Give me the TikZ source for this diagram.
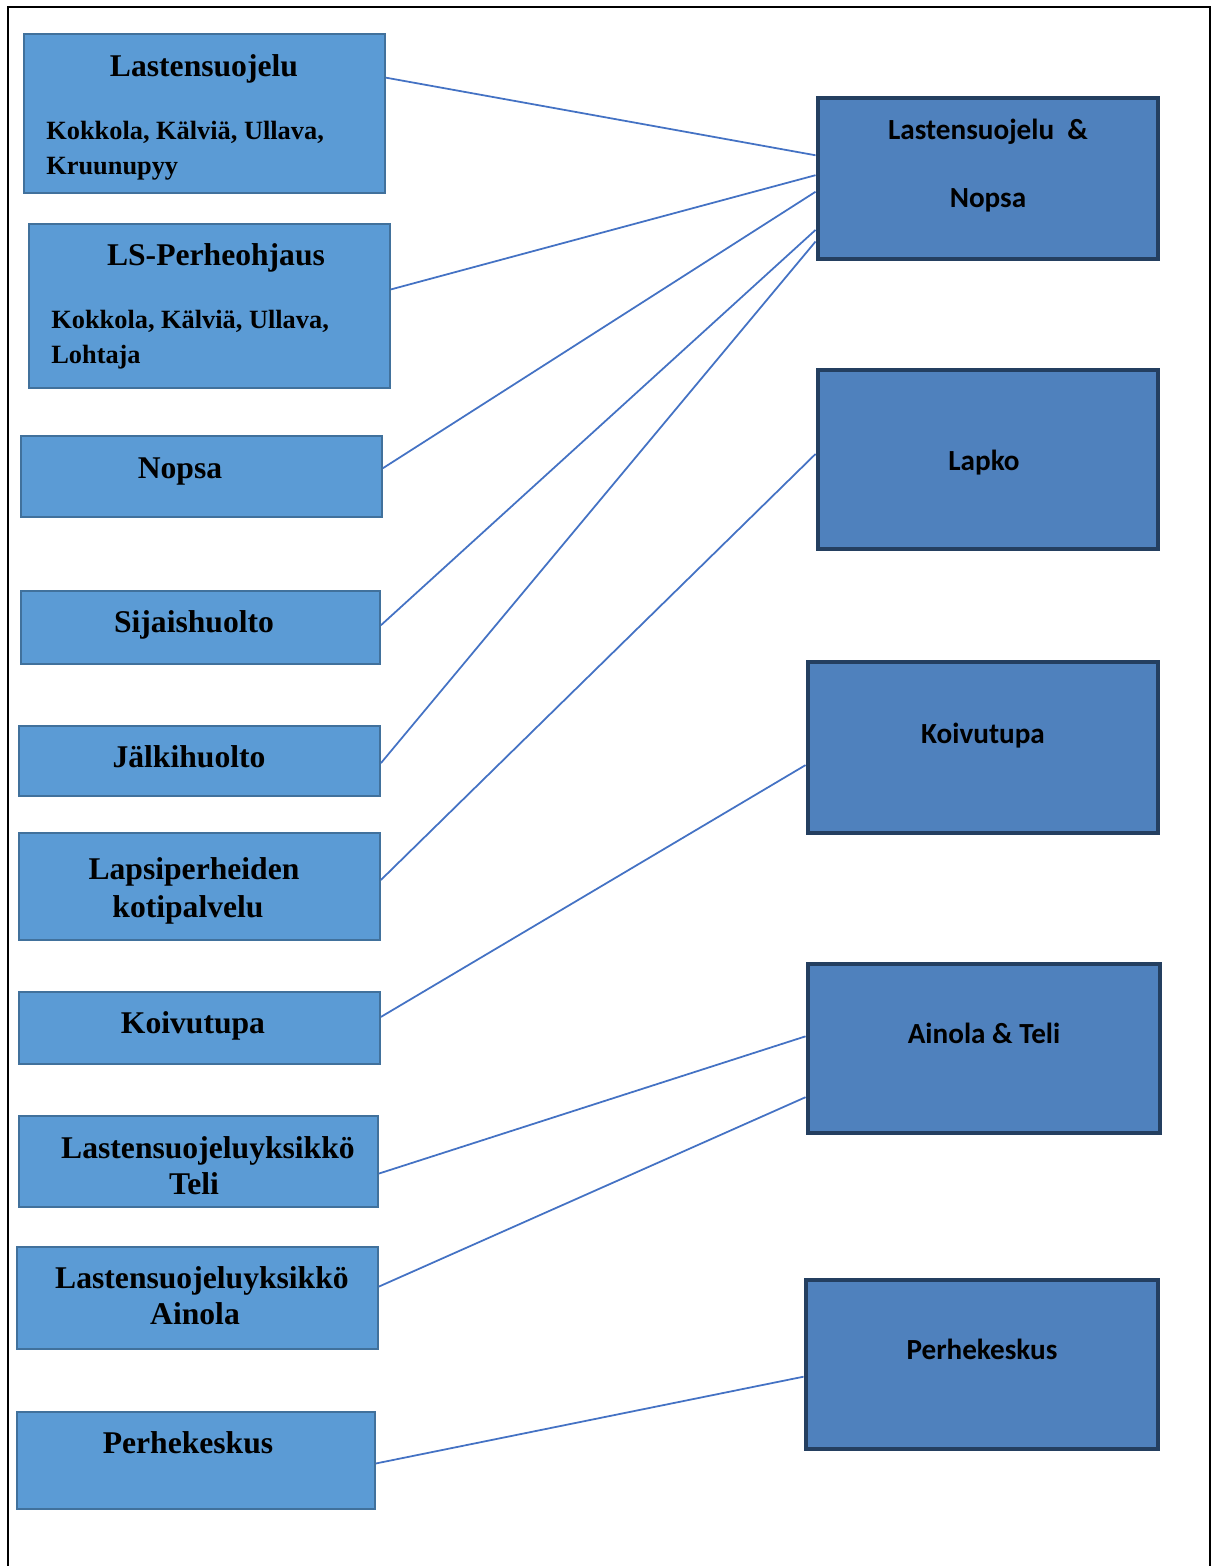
\documentclass[tikz,border=0pt]{standalone}
\usepackage{fontspec}
\setmainfont{Liberation Serif}
\newfontfamily\calib{Carlito}
\usetikzlibrary{fit,calc}
\definecolor{lfill}{HTML}{5B9BD5}
\definecolor{ldraw}{HTML}{41719C}
\definecolor{rfill}{HTML}{4F81BD}
\definecolor{rdraw}{HTML}{243F60}
\definecolor{conn}{HTML}{4472C4}
\begin{document}
\begin{tikzpicture}[x=0.02cm,y=-0.02cm,
 lbox/.style={draw=ldraw,fill=lfill,line width=1pt,inner sep=0pt,rectangle},
 rbox/.style={draw=rdraw,fill=rfill,line width=2.8pt,inner sep=0pt,rectangle},
 ltitle/.style={anchor=base,font=\fontsize{18}{21}\selectfont\bfseries,inner sep=0pt},
 lsub/.style={anchor=base west,font=\fontsize{15}{19}\selectfont\bfseries,inner sep=0pt},
 rtext/.style={anchor=base,font=\calib\fontsize{16.6}{19}\selectfont\bfseries,inner sep=0pt},
 link/.style={draw=conn,line width=1pt}]
\useasboundingbox[fill=white] (0,0) rectangle (1216,1566);
\draw[line width=1.5pt] (8,1566) -- (8,7) -- (1210,7) -- (1210,1566);

% left boxes
\node[lbox, fit={(24,34) (385,193)}] (l1) {};
\node[ltitle] (l1t) at (204,76) {Lastensuojelu};
\node[lsub] (l1a) at (46,139) {Kokkola, Kälviä, Ullava,};
\node[lsub] (l1b) at (46,174) {Kruunupyy};

\node[lbox, fit={(29,224) (390,388)}] (l2) {};
\node[ltitle] (l2t) at (216,265) {LS-Perheohjaus};
\node[lsub] (l2a) at (51,328) {Kokkola, Kälviä, Ullava,};
\node[lsub] (l2b) at (51,363) {Lohtaja};

\node[lbox, fit={(21,436) (382,517)}] (l3) {};
\node[ltitle] (l3t) at (180,478) {Nopsa};

\node[lbox, fit={(21,591) (380,664)}] (l4) {};
\node[ltitle] (l4t) at (194,632) {Sijaishuolto};

\node[lbox, fit={(19,726) (380,796)}] (l5) {};
\node[ltitle] (l5t) at (189,767) {Jälkihuolto};

\node[lbox, fit={(19,833) (380,940)}] (l6) {};
\node[ltitle] (l6t) at (194,879) {Lapsiperheiden};
\node[ltitle] (l6u) at (188,917) {kotipalvelu};

\node[lbox, fit={(19,992) (380,1064)}] (l7) {};
\node[ltitle] (l7t) at (193,1033) {Koivutupa};

\node[lbox, fit={(19,1116) (378,1207)}] (l8) {};
\node[ltitle] (l8t) at (208,1158) {Lastensuojeluyksikkö};
\node[ltitle] (l8u) at (194,1194) {Teli};

\node[lbox, fit={(17,1247) (378,1349)}] (l9) {};
\node[ltitle] (l9t) at (202,1288) {Lastensuojeluyksikkö};
\node[ltitle] (l9u) at (195,1324) {Ainola};

\node[lbox, fit={(17,1412) (375,1509)}] (l10) {};
\node[ltitle] (l10t) at (188,1453) {Perhekeskus};

% right boxes
\node[rbox, fit={(818,98) (1158,259)}] (rA) {};
\node[rtext] (rAt) at (988,139) {Lastensuojelu\ \ \&};
\node[rtext] (rAu) at (988,207) {Nopsa};

\node[rbox, fit={(818,370) (1158,549)}] (rB) {};
\node[rtext] (rBt) at (984,470) {Lapko};

\node[rbox, fit={(808,662) (1158,833)}] (rC) {};
\node[rtext] (rCt) at (983,743) {Koivutupa};

\node[rbox, fit={(808,964) (1160,1133)}] (rD) {};
\node[rtext] (rDt) at (984,1043) {Ainola \& Teli};

\node[rbox, fit={(806,1280) (1158,1449)}] (rE) {};
\node[rtext] (rEt) at (982,1359) {Perhekeskus};

% connectors
\draw[link] ($(l1.north east)!0.277!(l1.south east)$) -- ($(rA.north west)!0.36!(rA.south west)$);
\draw[link] ($(l2.north east)!0.40!(l2.south east)$) -- ($(rA.north west)!0.48!(rA.south west)$);
\draw[link] ($(l3.north east)!0.40!(l3.south east)$) -- ($(rA.north west)!0.58!(rA.south west)$);
\draw[link] ($(l4.north east)!0.47!(l4.south east)$) -- ($(rA.north west)!0.81!(rA.south west)$);
\draw[link] ($(l5.north east)!0.53!(l5.south east)$) -- ($(rA.north west)!0.88!(rA.south west)$);
\draw[link] ($(l6.north east)!0.44!(l6.south east)$) -- ($(rB.north west)!0.47!(rB.south west)$);
\draw[link] ($(l7.north east)!0.35!(l7.south east)$) -- ($(rC.north west)!0.60!(rC.south west)$);
\draw[link] ($(l8.north east)!0.63!(l8.south east)$) -- ($(rD.north west)!0.43!(rD.south west)$);
\draw[link] ($(l9.north east)!0.39!(l9.south east)$) -- ($(rD.north west)!0.78!(rD.south west)$);
\draw[link] ($(l10.north east)!0.53!(l10.south east)$) -- ($(rE.north west)!0.57!(rE.south west)$);
\end{tikzpicture}
\end{document}
